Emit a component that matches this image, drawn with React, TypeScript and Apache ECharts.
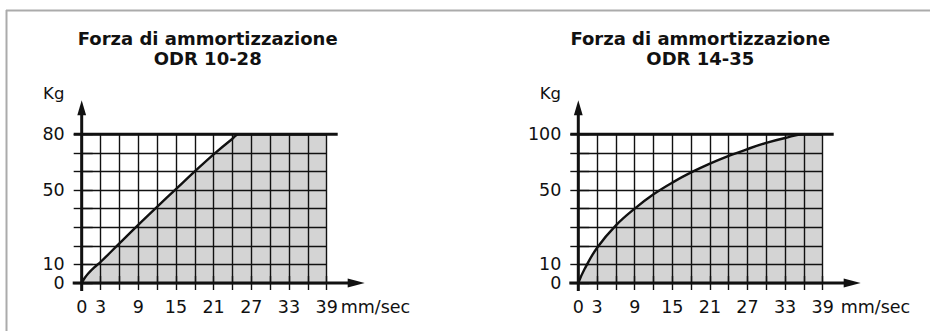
import React, { useEffect, useRef } from "react";
import * as echarts from "echarts";

// ---- data ----
const X_LABELS = [0, 3, 9, 15, 21, 27, 33, 39];
const Y_LABEL_POS = [0, 1, 5, 8];
const LEFT_Y_LABELS = [0, 10, 50, 80];
const RIGHT_Y_LABELS = [0, 10, 50, 100];
const LEFT_TITLE = ["Forza di ammortizzazione", "ODR 10-28"];
const RIGHT_TITLE = ["Forza di ammortizzazione", "ODR 14-35"];
const LEFT_SPEED = [0, 0.5, 1, 2, 3, 6, 9, 12, 15, 18, 21, 24, 25, 39];
const LEFT_FORCE = [0, 2.8, 5, 8.4, 11.3, 21.3, 31.3, 41, 50.5, 60, 69.2, 77.6, 80, 80];
const RIGHT_SPEED = [0, 1, 3, 6, 9, 12, 15, 18, 21, 24, 27, 30, 33, 36, 39];
const RIGHT_FORCE = [0, 7.5, 19, 31, 40, 47.7, 56.7, 65.8, 73.7, 80.7, 86.8, 92.3, 96.7, 100, 100];
const X_NAME = "mm/sec";
const Y_NAME = "Kg";

// ---- styling / layout ----
const INK = "#111111";
const FILL = "#d4d4d4";
const FONT = "'DejaVu Sans', Verdana, sans-serif";
const PANELS = [
  { left: 81.7, top: 134.3, width: 245, height: 148.7, titleX: 207.7, nameGap: 14, labels: LEFT_Y_LABELS, speed: LEFT_SPEED, force: LEFT_FORCE, title: LEFT_TITLE },
  { left: 578.3, top: 134.3, width: 244.4, height: 148.7, titleX: 700.3, nameGap: 18, labels: RIGHT_Y_LABELS, speed: RIGHT_SPEED, force: RIGHT_FORCE, title: RIGHT_TITLE },
];

// kg -> grid position using the labelled ticks of the y scale (piecewise)
function toPos(kg: number, labels: number[]): number {
  for (let i = 1; i < labels.length; i++) {
    if (kg <= labels[i]) {
      const a = labels[i - 1], b = labels[i];
      return Y_LABEL_POS[i - 1] + ((kg - a) / (b - a)) * (Y_LABEL_POS[i] - Y_LABEL_POS[i - 1]);
    }
  }
  return Y_LABEL_POS[Y_LABEL_POS.length - 1];
}

function buildOption() {
  const grid: any[] = [];
  const xAxis: any[] = [];
  const yAxis: any[] = [];
  const series: any[] = [];
  const elements: any[] = [];

  elements.push(
    { type: "line", z: 10, shape: { x1: 6, y1: 10.5, x2: 930, y2: 10.5 }, style: { stroke: "#ababab", lineWidth: 2 } },
    { type: "line", z: 10, shape: { x1: 6.5, y1: 10, x2: 6.5, y2: 331 }, style: { stroke: "#ababab", lineWidth: 2 } }
  );

  PANELS.forEach((p, i) => {
    grid.push({ left: p.left, top: p.top, width: p.width, height: p.height, containLabel: false, outerBoundsMode: "none" });
    const thin = { color: INK, width: 1.4 };
    xAxis.push(
      {
        type: "value", gridIndex: i, min: 0, max: 39, interval: 3, position: "bottom", z: 3,
        axisLine: { show: false },
        axisTick: { show: true, length: 7, lineStyle: thin },
        axisLabel: {
          show: true, margin: 15, fontSize: 17.5, color: INK, fontFamily: FONT, showMinLabel: true, showMaxLabel: true,
          formatter: (v: number) => (X_LABELS.includes(v) ? String(v) : ""),
        },
        splitLine: { show: true, lineStyle: thin },
      },
      {
        type: "value", gridIndex: i, min: 0, max: 39, interval: 3, position: "top", z: 3,
        axisLine: { show: false },
        axisTick: { show: true, length: 7, lineStyle: thin },
        axisLabel: { show: false },
        splitLine: { show: false },
      }
    );
    yAxis.push(
      {
        type: "value", gridIndex: i, min: 0, max: 8, interval: 1, position: "left", z: 3,
        axisLine: { show: false },
        axisTick: { show: true, length: 8, lineStyle: thin },
        axisLabel: {
          show: true, margin: 17, fontSize: 17.5, color: INK, fontFamily: FONT, showMinLabel: true, showMaxLabel: true,
          formatter: (v: number) => {
            const k = Y_LABEL_POS.indexOf(v);
            return k >= 0 ? String(p.labels[k]) : "";
          },
        },
        splitLine: { show: true, lineStyle: thin },
      },
      {
        type: "value", gridIndex: i, min: 0, max: 8, interval: 1, position: "right", z: 3,
        axisLine: { show: false },
        axisTick: { show: true, length: 11, lineStyle: thin },
        axisLabel: { show: false },
        splitLine: { show: false },
      }
    );
    const data = p.speed.map((s, k) => [s, toPos(p.force[k], p.labels)]);
    series.push(
      {
        type: "line", xAxisIndex: 2 * i, yAxisIndex: 2 * i, data, symbol: "none", showSymbol: false,
        smooth: 0.4, z: 1,
        lineStyle: { width: 0, color: FILL }, areaStyle: { color: FILL, opacity: 1 },
        silent: true,
      },
      {
        type: "line", xAxisIndex: 2 * i, yAxisIndex: 2 * i, data, symbol: "none", showSymbol: false,
        smooth: 0.4, z: 5,
        lineStyle: { width: 2.4, color: INK },
        silent: true,
      }
    );

    const right = p.left + p.width;
    const bottom = p.top + p.height;
    elements.push(
      { type: "line", z: 10, shape: { x1: p.left - 9, y1: bottom, x2: right + 22, y2: bottom }, style: { stroke: INK, lineWidth: 3 } },
      { type: "polygon", z: 10, shape: { points: [[right + 21, bottom - 4.5], [right + 38, bottom], [right + 21, bottom + 4.5]] }, style: { fill: INK } },
      { type: "line", z: 10, shape: { x1: p.left, y1: bottom + 8, x2: p.left, y2: p.top - 20 }, style: { stroke: INK, lineWidth: 3 } },
      { type: "polygon", z: 10, shape: { points: [[p.left - 4.4, p.top - 19], [p.left, p.top - 34], [p.left + 4.4, p.top - 19]] }, style: { fill: INK } },
      { type: "line", z: 10, shape: { x1: p.left - 8, y1: p.top, x2: right + 11, y2: p.top }, style: { stroke: INK, lineWidth: 3 } },
      {
        type: "text", z: 10, x: p.left - 28, y: 93,
        style: { text: Y_NAME, align: "center", verticalAlign: "middle", textAlign: "center", textVerticalAlign: "middle", fontSize: 16.5, fontFamily: FONT, fill: INK },
      },
      {
        type: "text", z: 10, x: right + p.nameGap, y: bottom + 24,
        style: { text: X_NAME, align: "left", verticalAlign: "middle", textAlign: "left", textVerticalAlign: "middle", fontSize: 17.5, fontFamily: FONT, fill: INK },
      },
      {
        type: "text", z: 10, x: p.titleX, y: 48.6,
        style: {
          text: p.title.join("\n"), align: "center", verticalAlign: "middle", textAlign: "center", textVerticalAlign: "middle",
          fontSize: 18, fontWeight: "bold", fontFamily: FONT, fill: INK, lineHeight: 19.5,
        },
      }
    );
  });

  return { animation: false, backgroundColor: "#ffffff", grid, xAxis, yAxis, series, graphic: { elements } };
}

export default function App() {
  const ref = useRef<HTMLDivElement>(null);
  useEffect(() => {
    if (!ref.current) return;
    const chart = echarts.init(ref.current, undefined, { renderer: "svg" });
    chart.setOption(buildOption() as any);
    return () => chart.dispose();
  }, []);
  return <div ref={ref} style={{ position: "fixed", left: 0, top: 0, width: 930, height: 331 }} />;
}
